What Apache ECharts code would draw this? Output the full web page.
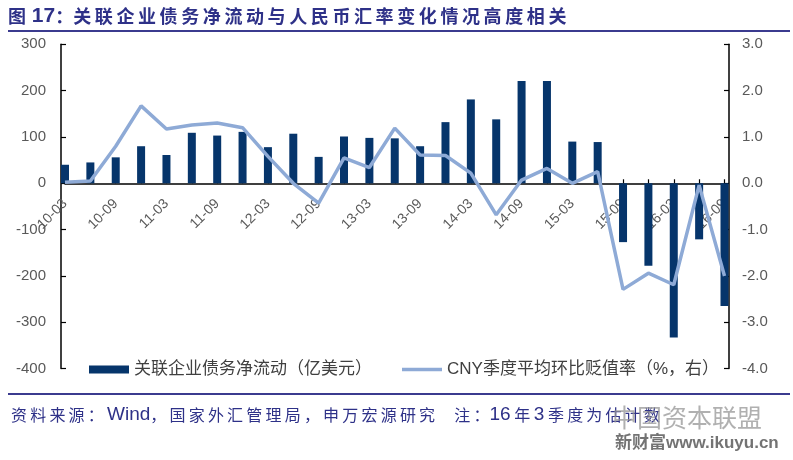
<!DOCTYPE html>
<html>
<head>
<meta charset="utf-8">
<script src="https://cdn.jsdelivr.net/npm/echarts@6/dist/echarts.min.js"></script>
<style>
html,body{margin:0;padding:0;background:#fff;}
#chart{width:793px;height:460px;}
</style>
</head>
<body>
<div id="chart"></div>
<script>
const categories = ['10-03','10-06','10-09','10-12','11-03','11-06','11-09','11-12','12-03','12-06','12-09','12-12','13-03','13-06','13-09','13-12','14-03','14-06','14-09','14-12','15-03','15-06','15-09','15-12','16-03','16-06','16-09'];
const debtFlow = [40,45,56,80,61,109,103,111,78,107,57,101,98,97,80,132,181,138,221,221,90,89,-127,-178,-333,-121,-265];
const cnyRate = [0.02,0.05,0.8,1.67,1.17,1.26,1.3,1.2,0.58,0.0,-0.43,0.55,0.34,1.19,0.61,0.6,0.22,-0.68,0.07,0.32,0.0,0.25,-2.29,-1.94,-2.19,-0.04,-2.0];
const leftTicks = {min:-400, max:300, interval:100};
const rightTicks = {min:-4, max:3, interval:1};
const seriesNames = ['关联企业债务净流动（亿美元）','CNY季度平均环比贬值率（%，右）'];
const titleText = '关联企业债务净流动与人民币汇率变化情况高度相关';

const navy = '#2e3188';
const barColor = '#06356b';
const lineColor = '#8eaad6';
const sp = s => s.split('').join('\u2009');

const chart = echarts.init(document.getElementById('chart'));
const cjk = "'Liberation Sans','Noto Sans CJK SC',sans-serif";
chart.setOption({
  animation:false,
  backgroundColor:'#fff',
  grid:{left:65, right:68.5, top:44.3, bottom:91.4, containLabel:false},
  legend:{
    left:84, top:356, itemWidth:40, itemHeight:8, itemGap:30,
    textStyle:{fontSize:17, color:'#404040', fontFamily:cjk},
    data:[
      {name:seriesNames[0], icon:'rect'},
      {name:seriesNames[1], icon:'path://M0,0L0.01,0Z M0,2.2H40V5.8H0Z M0,8L0.01,8Z', itemStyle:{color:lineColor}}
    ]
  },
  xAxis:{
    type:'category', data:categories, boundaryGap:false,
    axisLine:{onZero:true, lineStyle:{color:'#000', width:1.5}},
    axisTick:{show:true, inside:true, length:4, interval:0, lineStyle:{color:'#000', width:1.2}},
    axisLabel:{interval:1, rotate:45, margin:-167, fontSize:14, color:'#595959', fontFamily:cjk},
    splitLine:{show:false}
  },
  yAxis:[{
    type:'value', min:leftTicks.min, max:leftTicks.max, interval:leftTicks.interval, offset:4,
    axisLine:{show:true, lineStyle:{color:'#000', width:1.5}},
    axisTick:{show:true, inside:true, length:5, lineStyle:{color:'#000', width:1.2}},
    axisLabel:{fontSize:15, color:'#595959', margin:15, fontFamily:cjk},
    splitLine:{show:false}
  },{
    type:'value', min:rightTicks.min, max:rightTicks.max, interval:rightTicks.interval, offset:4.5,
    position:'right',
    axisLine:{show:true, lineStyle:{color:'#000', width:1.5}},
    axisTick:{show:true, inside:true, length:5, lineStyle:{color:'#000', width:1.2}},
    axisLabel:{fontSize:15, color:'#595959', margin:13, fontFamily:cjk, formatter:v=>v.toFixed(1)},
    splitLine:{show:false}
  }],
  series:[{
    name:seriesNames[0], type:'bar', data:debtFlow, barWidth:8, clip:false,
    itemStyle:{color:barColor}, z:2
  },{
    name:seriesNames[1], type:'line', yAxisIndex:1, data:cnyRate, symbol:'none',
    lineStyle:{color:lineColor, width:3.5}, itemStyle:{color:lineColor}, z:3
  }],
  graphic:[
    {type:'text', left:8, top:6, style:{
      text:'{t|图}{n| 17}{t|：'+sp(titleText)+'}',
      rich:{
        t:{fontSize:18, fontWeight:'bold', fill:navy, fontFamily:"'Noto Sans CJK SC',sans-serif"},
        n:{fontSize:21, fontWeight:'bold', fill:navy, fontFamily:"'Liberation Sans',sans-serif"}
      }
    }},
    {type:'line', shape:{x1:8,y1:31,x2:790,y2:31}, style:{stroke:'#3b3b8f', lineWidth:2}},
    {type:'line', shape:{x1:8,y1:394,x2:790,y2:394}, style:{stroke:'#3b3b8f', lineWidth:2}},
    {type:'text', left:11, top:405, style:{
      text:'{c|'+sp('资料来源：')+'\u2009}{w|Wind}{c|'+sp('，国家外汇管理局，申万宏源研究')+'\u3000\u2009'+sp('注：')+'}{w|16}{c| 年 }{w|3}{c| '+sp('季度为估计数')+'}',
      rich:{
        c:{fontSize:16, fill:navy, fontFamily:"'Noto Sans CJK SC',sans-serif"},
        w:{fontSize:19, fill:navy, fontFamily:"'Liberation Sans',sans-serif"}
      }
    }},
    {type:'text', left:612, top:405, style:{text:'中国资本联盟', fill:'rgba(150,150,150,0.75)', font:"25px 'Noto Sans CJK SC',sans-serif"}},
    {type:'text', left:615, top:435, style:{text:'新财富www.ikuyu.cn', fill:'rgba(90,90,90,0.85)', font:"bold 17px 'Liberation Sans','Noto Sans CJK SC',sans-serif"}}
  ]
});
</script>
</body>
</html>
